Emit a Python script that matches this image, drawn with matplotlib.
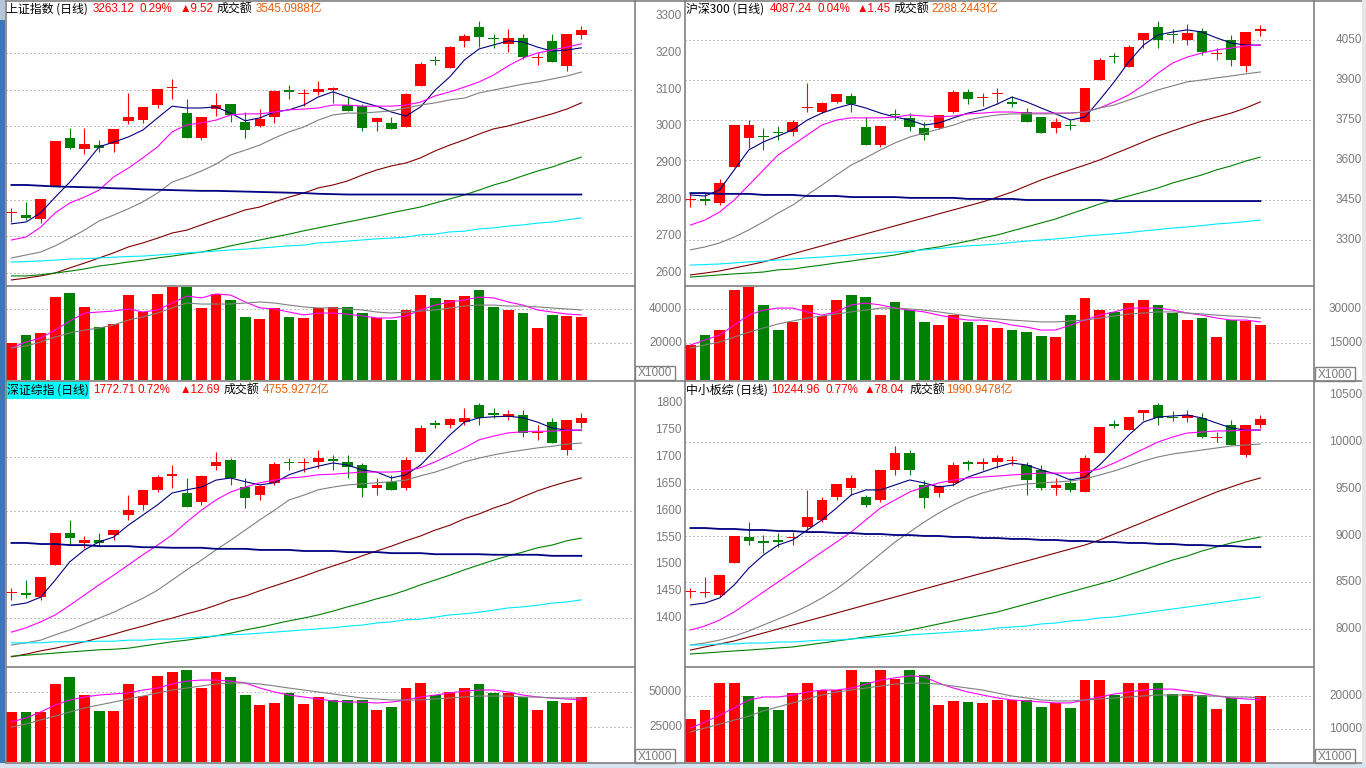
import matplotlib
matplotlib.use("Agg")
import matplotlib.pyplot as plt
from matplotlib.patches import Rectangle
from matplotlib.transforms import blended_transform_factory
import numpy as np

# ── data: 上证指数 ────────────────────────────────────────────────────────────
SH_OPEN = [2764,2758,2747,2837,2968,2938,2949,2952,3015,3017,3058,3104,3036,2968,3047,3061,3012,3001,3025,3099,3087,3094,3100,3058,3055,3012,3009,2998,3110,3178,3159,3233,3271,3238,3225,3241,3186,3233,3165,3249]
SH_HIGH = [2777,2794,2802,2960,2995,2995,2963,2993,3091,3053,3102,3129,3075,3025,3091,3061,3039,3047,3096,3113,3102,3124,3107,3080,3061,3023,3025,3091,3175,3192,3219,3252,3287,3252,3265,3252,3200,3252,3252,3274]
SH_LOW = [2739,2745,2736,2837,2938,2925,2930,2930,3006,3009,3050,3075,2968,2963,3028,3012,2968,2998,3009,3075,3056,3085,3064,3042,2987,2987,2993,2998,3110,3167,3159,3216,3216,3214,3203,3184,3167,3175,3151,3238]
SH_CLOSE = [2765,2750,2802,2960,2941,2952,2941,2993,3025,3053,3102,3106,2968,3025,3058,3031,2990,3020,3096,3094,3089,3102,3102,3042,2995,3023,2993,3088,3170,3177,3216,3246,3244,3237,3241,3189,3187,3175,3252,3263]
SH_MA5 = [2734,2739,2764,2807,2848,2895,2944,2957,2971,2990,3023,3055,3050,3050,3053,3036,3015,3023,3039,3045,3058,3080,3094,3080,3066,3055,3039,3028,3053,3099,3135,3181,3211,3222,3233,3230,3216,3205,3208,3214]
SH_MA10 = [2690,2698,2725,2764,2791,2807,2826,2862,2886,2914,2944,2985,3004,3009,3017,3031,3034,3034,3039,3045,3047,3050,3058,3058,3055,3055,3055,3058,3066,3083,3094,3107,3121,3140,3165,3186,3200,3208,3216,3225]
SH_MA20 = [2641,2649,2657,2674,2695,2717,2742,2758,2775,2794,2818,2848,2862,2878,2897,2922,2935,2949,2968,2985,2998,3017,3031,3036,3036,3039,3042,3050,3058,3064,3072,3077,3091,3099,3107,3115,3121,3129,3137,3148]
SH_MA60 = [2581,2586,2592,2600,2614,2627,2641,2655,2671,2682,2695,2709,2717,2731,2745,2758,2772,2780,2794,2807,2818,2832,2840,2851,2867,2881,2892,2900,2914,2933,2949,2963,2979,2993,3001,3012,3023,3034,3047,3064]
SH_MA120 = [2592,2592,2595,2600,2605,2611,2619,2624,2630,2635,2641,2646,2652,2657,2665,2674,2682,2690,2698,2706,2715,2723,2731,2739,2747,2755,2764,2772,2780,2791,2802,2813,2826,2840,2851,2865,2878,2889,2903,2916]
SH_MA250 = [2630,2631,2633,2635,2638,2639,2641,2643,2645,2646,2649,2652,2655,2657,2660,2663,2665,2668,2671,2674,2676,2682,2684,2687,2690,2693,2695,2698,2704,2706,2712,2714,2720,2723,2728,2731,2736,2739,2745,2750]
SH_MAX = [2840,2840,2838,2836,2835,2834,2833,2831,2830,2828,2827,2826,2825,2824,2824,2823,2822,2821,2820,2819,2818,2816,2815,2814,2814,2814,2814,2814,2814,2814,2814,2814,2814,2814,2814,2814,2814,2814,2814,2814]
SH_VOL = [20000,24700,25900,47000,49400,41200,29400,31200,48200,38200,48800,52900,52900,40600,48800,45300,35300,34100,40600,35300,34700,40600,41200,41200,37600,34700,33500,39400,48200,46500,45300,47600,51200,41200,39400,37600,28800,36500,35900,35300]
SH_VMA5 = [17100,20600,22900,27600,32900,37600,38200,38800,40000,38200,39400,43500,47600,46500,48800,48200,44100,40600,40000,38200,36500,37600,37600,37000,35900,34700,34700,35900,39400,42300,44100,45300,47000,46500,44100,42300,39400,38200,37000,36500]
SH_VMA10 = [17100,18200,20600,23500,25900,27600,28800,30600,33500,35300,37600,40600,43500,42900,42900,42900,43500,44100,43500,42300,41200,40600,40600,40000,39400,38200,37600,38200,38800,39400,40600,41700,42300,42300,41700,41700,41200,40600,40000,39400]

# ── data: 沪深300 ────────────────────────────────────────────────────────────
HS_OPEN = [3450,3455,3439,3574,3683,3690,3705,3705,3795,3780,3818,3840,3724,3656,3770,3758,3720,3720,3780,3855,3833,3848,3818,3780,3761,3720,3730,3743,3900,3990,3949,4050,4099,4072,4050,4084,3998,4050,3953,4085]
HS_HIGH = [3476,3476,3529,3731,3750,3720,3728,3750,3889,3818,3848,3851,3761,3728,3790,3776,3743,3769,3861,3866,3851,3870,3840,3795,3761,3758,3750,3870,3983,4000,4031,4076,4121,4090,4110,4095,4020,4069,4080,4106]
HS_LOW = [3424,3431,3431,3574,3645,3638,3675,3690,3780,3776,3815,3780,3656,3650,3750,3709,3675,3715,3776,3810,3803,3810,3800,3743,3700,3701,3713,3743,3900,3965,3949,4020,4020,4040,4030,3994,3975,3953,3930,4065]
HS_CLOSE = [3452,3446,3514,3731,3731,3685,3701,3743,3800,3814,3848,3810,3656,3728,3767,3724,3694,3769,3855,3829,3836,3850,3810,3743,3701,3743,3726,3870,3975,3985,4024,4076,4050,4069,4076,4005,4000,3975,4080,4087]
HS_MA5 = [3469,3465,3488,3563,3638,3668,3690,3713,3750,3776,3795,3810,3795,3776,3761,3750,3731,3739,3758,3776,3788,3810,3836,3818,3795,3773,3750,3761,3825,3893,3968,4031,4069,4080,4088,4080,4058,4039,4031,4031]
HS_MA10 = [3356,3375,3405,3450,3506,3563,3619,3656,3694,3731,3750,3758,3758,3758,3761,3769,3765,3761,3765,3773,3776,3780,3780,3776,3776,3776,3776,3780,3795,3818,3844,3881,3926,3964,3986,4001,4013,4020,4028,4031]
HS_MA20 = [3263,3274,3289,3311,3338,3368,3401,3431,3469,3506,3544,3581,3608,3638,3664,3686,3701,3716,3731,3750,3761,3769,3773,3773,3773,3773,3776,3780,3795,3806,3825,3844,3863,3878,3893,3900,3908,3915,3923,3930]
HS_MA60 = [3169,3176,3184,3195,3206,3218,3233,3248,3263,3278,3293,3308,3323,3338,3353,3368,3383,3398,3413,3428,3443,3461,3480,3503,3525,3544,3563,3581,3600,3623,3645,3668,3690,3709,3728,3746,3761,3776,3795,3818]
HS_MA120 = [3161,3165,3169,3173,3176,3180,3188,3191,3199,3206,3214,3221,3229,3236,3244,3255,3266,3274,3285,3296,3308,3319,3334,3349,3364,3379,3398,3416,3435,3450,3465,3480,3495,3514,3529,3544,3563,3578,3596,3611]
HS_MA250 = [3206,3208,3210,3214,3218,3221,3225,3229,3233,3236,3240,3244,3248,3251,3255,3259,3263,3268,3274,3278,3281,3285,3291,3296,3300,3304,3309,3315,3319,3323,3328,3334,3339,3345,3349,3354,3360,3364,3369,3375]
HS_MAX = [3476,3476,3473,3473,3473,3469,3469,3469,3465,3465,3465,3461,3461,3461,3461,3458,3458,3458,3458,3454,3454,3454,3454,3450,3450,3450,3450,3450,3450,3446,3446,3446,3446,3446,3446,3446,3446,3446,3446,3446]
HS_VOL = [14100,18500,20700,38400,39700,31800,20700,24300,31800,26900,34000,36200,35300,27300,33100,29500,24300,22900,27300,24300,22900,21600,20700,19800,18100,17600,27300,34800,29500,28700,32600,34000,31800,28200,25100,26000,17600,25100,24700,22900]
HS_VMA5 = [14100,16300,18500,22900,27300,29500,30400,30400,28700,27300,28700,31800,32600,31800,30400,29500,28700,27300,26000,25100,25100,24300,22900,22000,20700,20700,22900,25100,27300,28700,30400,30400,30400,29500,28200,27300,26000,25100,25100,24300]
HS_VMA10 = [12800,14100,15400,17600,19800,21600,23400,24700,26000,26900,27800,28700,29500,30400,30400,30000,29500,28700,27800,26900,26000,25600,25100,24700,24300,24300,24700,25100,26000,26900,27800,28200,28700,28700,28200,27800,27300,26900,26500,26000]

# ── data: 深证综指 ────────────────────────────────────────────────────────────
SZ_OPEN = [1447,1447,1439,1499,1558,1540,1545,1555,1592,1611,1639,1665,1633,1616,1683,1694,1644,1629,1652,1691,1689,1691,1694,1691,1685,1642,1653,1642,1709,1761,1760,1765,1797,1782,1774,1778,1745,1765,1713,1763]
SZ_HIGH = [1456,1471,1477,1558,1583,1553,1558,1564,1629,1639,1666,1685,1661,1666,1709,1698,1661,1648,1691,1698,1698,1713,1704,1704,1689,1661,1666,1700,1760,1769,1773,1791,1801,1791,1787,1787,1760,1773,1769,1782]
SZ_LOW = [1434,1437,1434,1499,1536,1531,1534,1545,1583,1601,1635,1642,1607,1611,1676,1648,1605,1620,1648,1676,1672,1680,1676,1661,1626,1629,1639,1639,1709,1754,1754,1760,1760,1773,1769,1737,1732,1726,1704,1754]
SZ_CLOSE = [1448,1443,1477,1558,1549,1545,1540,1564,1601,1639,1663,1668,1607,1665,1691,1661,1624,1646,1687,1689,1691,1698,1693,1681,1642,1648,1639,1694,1754,1760,1771,1772,1772,1778,1780,1745,1747,1726,1769,1773]
SZ_MA5 = [1424,1428,1439,1471,1505,1527,1542,1551,1573,1592,1611,1633,1639,1644,1657,1661,1654,1648,1652,1667,1676,1683,1689,1685,1676,1672,1661,1667,1685,1713,1741,1765,1773,1775,1776,1773,1765,1754,1750,1750]
SZ_MA10 = [1374,1382,1393,1406,1424,1443,1462,1480,1499,1518,1536,1555,1579,1601,1620,1635,1644,1652,1657,1661,1663,1667,1668,1670,1672,1672,1672,1674,1680,1691,1704,1717,1732,1739,1745,1747,1748,1748,1750,1750]
SZ_MA20 = [1350,1354,1359,1369,1378,1389,1400,1411,1424,1437,1452,1471,1490,1508,1527,1545,1564,1583,1601,1620,1629,1639,1644,1648,1650,1652,1654,1657,1665,1672,1681,1691,1698,1704,1709,1713,1717,1720,1724,1726]
SZ_MA60 = [1328,1333,1339,1344,1350,1356,1363,1370,1378,1385,1393,1400,1408,1415,1424,1434,1441,1451,1460,1469,1478,1488,1497,1506,1516,1525,1534,1544,1553,1564,1573,1585,1594,1605,1614,1626,1637,1646,1654,1661]
SZ_MA120 = [1329,1331,1333,1335,1337,1339,1341,1342,1344,1348,1352,1356,1359,1363,1367,1372,1378,1383,1389,1395,1400,1406,1413,1421,1428,1436,1443,1452,1462,1471,1480,1490,1499,1508,1516,1523,1531,1536,1544,1549]
SZ_MA250 = [1354,1354,1354,1356,1356,1356,1357,1357,1359,1359,1361,1361,1363,1365,1367,1369,1370,1372,1374,1376,1378,1380,1382,1385,1387,1391,1393,1397,1398,1402,1406,1408,1411,1415,1419,1421,1424,1428,1430,1434]
SZ_MAX = [1540,1540,1538,1538,1536,1536,1534,1534,1534,1532,1532,1531,1531,1531,1529,1529,1529,1527,1527,1527,1525,1525,1525,1523,1523,1523,1521,1521,1521,1519,1519,1519,1519,1518,1518,1518,1518,1516,1516,1516]
SZ_VOL = [35700,35700,35700,55700,60700,47800,36400,36400,55700,47100,61400,64300,65700,52800,64300,60700,47800,40700,42100,49300,41400,46400,44300,44300,44300,37100,39300,52800,56400,47800,50000,52800,55700,49300,49300,46400,37100,43600,42100,46400]
SZ_VMA5 = [28600,31400,35700,40700,44300,46400,47800,48600,49300,51400,52800,55700,57800,58500,58500,57800,56400,52800,50000,47800,46400,45000,43600,42800,42800,42100,42800,44300,46400,47800,49300,50700,51400,51400,50000,47800,46400,45700,45000,44300]
SZ_VMA10 = [25000,27100,30000,32800,35700,38600,40700,42800,45000,47100,49300,51400,52800,54300,55700,56400,56400,55700,54300,52800,51400,50000,48600,47100,45700,45000,44300,44300,44300,45000,45700,46400,47100,47100,47100,46400,46400,45700,45700,45700]

# ── data: 中小板综 ────────────────────────────────────────────────────────────
ZX_OPEN = [8396,8385,8364,8706,8984,8930,8952,8973,9091,9166,9412,9508,9412,9380,9701,9882,9540,9455,9562,9775,9765,9786,9797,9754,9701,9508,9562,9465,9882,10193,10128,10310,10396,10267,10257,10257,10043,10182,9861,10182]
ZX_HIGH = [8439,8556,8578,8995,9144,9005,9027,9037,9487,9412,9551,9647,9433,9701,9957,9914,9594,9540,9786,9807,9829,9861,9850,9786,9754,9615,9615,9861,10160,10235,10267,10342,10417,10332,10342,10310,10107,10235,10182,10289]
ZX_LOW = [8332,8342,8342,8706,8898,8813,8877,8898,9059,9144,9380,9433,9305,9358,9647,9647,9294,9412,9529,9701,9701,9722,9754,9433,9487,9433,9465,9465,9882,10150,10128,10235,10182,10225,10214,10043,10000,9968,9840,10150]
ZX_CLOSE = [8398,8396,8578,8995,8941,8925,8930,8984,9198,9380,9551,9615,9326,9701,9882,9701,9401,9529,9754,9770,9786,9829,9800,9594,9508,9540,9487,9829,10160,10171,10267,10342,10257,10257,10289,10053,10053,9968,10182,10245]
ZX_MA5 = [8257,8278,8332,8471,8652,8791,8898,8952,9059,9166,9294,9433,9487,9487,9540,9594,9562,9519,9540,9626,9679,9733,9775,9754,9701,9658,9594,9626,9754,9914,10075,10214,10267,10278,10289,10257,10203,10150,10128,10128]
ZX_MA10 = [7989,8032,8096,8182,8289,8396,8503,8610,8717,8824,8930,9037,9166,9294,9380,9465,9519,9562,9594,9615,9626,9636,9647,9658,9668,9668,9668,9679,9711,9775,9850,9925,10000,10053,10096,10107,10118,10118,10128,10128]
ZX_MA20 = [7829,7850,7882,7925,7979,8043,8107,8171,8246,8332,8428,8545,8674,8802,8930,9037,9144,9241,9326,9401,9455,9497,9529,9551,9562,9572,9583,9604,9647,9690,9743,9797,9840,9872,9893,9914,9936,9957,9968,9979]
ZX_MA60 = [7775,7808,7840,7872,7915,7957,8000,8043,8086,8128,8171,8214,8257,8300,8342,8385,8428,8471,8513,8556,8599,8642,8685,8727,8770,8813,8856,8898,8952,9016,9080,9144,9209,9273,9337,9401,9465,9519,9572,9615]
ZX_MA120 = [7733,7743,7754,7765,7775,7786,7797,7808,7829,7850,7872,7893,7915,7936,7957,7989,8021,8054,8086,8118,8150,8182,8225,8267,8310,8353,8396,8439,8481,8524,8578,8631,8685,8738,8781,8834,8877,8920,8952,8984]
ZX_MA250 = [7829,7829,7840,7840,7850,7850,7861,7861,7872,7882,7882,7893,7904,7915,7925,7936,7947,7957,7968,7979,7989,8011,8021,8032,8054,8064,8086,8096,8118,8128,8150,8171,8193,8214,8235,8257,8278,8300,8321,8342]
ZX_MAX = [9080,9080,9070,9070,9059,9059,9048,9048,9037,9037,9027,9027,9016,9016,9005,9005,8995,8995,8984,8984,8973,8973,8963,8963,8952,8952,8941,8941,8930,8930,8920,8920,8909,8909,8898,8898,8888,8888,8877,8877]
ZX_VOL = [13000,15800,23900,23900,20000,16700,15800,20900,23900,21800,21800,27900,24200,27900,25100,27900,26400,17300,18500,18200,17900,18800,18800,18800,16700,17900,16400,24800,24800,20300,23900,23900,23900,20600,20600,20300,16100,19400,17600,20000]
ZX_VMA5 = [10300,12100,14200,16400,18800,19700,19700,20300,21200,21800,21800,22400,23600,24800,25500,26100,25800,23900,22400,21200,20300,19400,18800,18500,18200,17900,17900,18800,19700,20600,21200,21800,22100,22100,21500,20900,20000,19400,19100,18800]
ZX_VMA10 = [9090,10300,11500,12700,13900,15500,16700,17900,19100,20300,21200,21800,22400,23000,23600,23900,23900,23600,23000,22400,21800,20900,20000,19400,18800,18500,18500,18800,19100,19400,19700,20000,20300,20300,20300,20000,20000,19700,19700,19400]

# ── style ─────────────────────────────────────────────────────────────────────
W, H = 1366, 768
RED = "#FF0000"
GREEN = "#008000"
FRAME = "#808080"
ORANGE = "#E8600C"
MA_COLORS = ["#000080", "#FF00FF", "#808080", "#800000", "#008000", "#00E8FF"]
CJK = ["Noto Sans CJK SC", "DejaVu Sans"]
NUM = ["Liberation Sans", "DejaVu Sans", "Noto Sans CJK SC"]

fig = plt.figure(figsize=(W / 100, H / 100), dpi=100)
fig.patch.set_facecolor("white")


def px_axes(x0, y0, x1, y1, z=1):
    ax = fig.add_axes([x0 / W, 1 - y1 / H, (x1 - x0) / W, (y1 - y0) / H], zorder=z)
    ax.set_facecolor("none")
    ax.axis("off")
    return ax


bg = px_axes(0, 0, W, H, z=0)
bg.set_xlim(0, W); bg.set_ylim(H, 0)
top = px_axes(0, 0, W, H, z=5)
top.set_xlim(0, W); top.set_ylim(H, 0)

# window chrome
bg.add_patch(Rectangle((0, 0), 5, 20, color="#B4C6D8", lw=0))
bg.add_patch(Rectangle((0, 20), 5, 748, color="#3E76B4", lw=0))
bg.add_patch(Rectangle((0, 763), W, 5, color="#D7E3EF", lw=0))
bg.add_patch(Rectangle((1362, 0), 4, 763, color="#E6E6E6", lw=0))
bg.add_patch(Rectangle((6, 381), 83, 18, color="#00FFFF", lw=0))

XL = (-0.37, 42.67)


def grid_and_labels(ax, lab_x, labels, grids):
    tr = blended_transform_factory(fig.transFigure, ax.transData)
    for v in labels:
        ax.text(lab_x / W, v, str(v), transform=tr, ha="right", va="center",
                fontsize=8.5, color="#7A7A7A", family=NUM)
    for v in grids:
        ax.axhline(v, color=FRAME, lw=0.72, ls=(0, (1, 3)), zorder=1)


def panel(x0, x1, y0, ysep, y1, lab_x, o, h, l, c, mas, ylim, plabels, pgrids,
          vol, vma5, vma10, vylim, vlabels):
    o, h, l, c = map(np.asarray, (o, h, l, c))
    x = np.arange(len(o))
    col = np.where(c >= o, RED, GREEN)

    ax = px_axes(x0, y0, x1, ysep, z=2)
    ax.set_xlim(*XL); ax.set_ylim(*ylim)
    unit = (ylim[1] - ylim[0]) / (ysep - y0)
    grid_and_labels(ax, lab_x, plabels, pgrids)
    ax.vlines(x, l, h, colors=col, lw=0.8, zorder=2)
    body = np.maximum(np.abs(c - o), 1.3 * unit)
    ax.bar(x, body, 0.72, bottom=np.minimum(o, c), color=col, lw=0, zorder=3)
    for ma, mc in zip(mas[:-1], MA_COLORS):
        ax.plot(x, ma, color=mc, lw=0.8, zorder=4)
    ax.plot(x, mas[-1], color="#000080", lw=1.3, zorder=4)

    av = px_axes(x0, ysep, x1, y1, z=2)
    av.set_xlim(*XL); av.set_ylim(*vylim)
    grid_and_labels(av, lab_x, vlabels, vlabels)
    vol = np.asarray(vol)
    av.bar(x, vol - vylim[0], 0.74, bottom=vylim[0], color=col, lw=0, zorder=3)
    av.plot(x, vma5, color="#FF00FF", lw=0.8, zorder=4)
    av.plot(x, vma10, color="#808080", lw=0.8, zorder=4)


panel(6, 635, 0, 286, 380, 682, SH_OPEN, SH_HIGH, SH_LOW, SH_CLOSE,
      [SH_MA5, SH_MA10, SH_MA20, SH_MA60, SH_MA120, SH_MA250, SH_MAX],
      (2564.5, 3344.5), list(range(3300, 2550, -100)), list(range(3200, 2550, -100)),
      SH_VOL, SH_VMA5, SH_VMA10, (-1764, 53508), [40000, 20000])
panel(685, 1314, 0, 286, 380, 1362, HS_OPEN, HS_HIGH, HS_LOW, HS_CLOSE,
      [HS_MA5, HS_MA10, HS_MA20, HS_MA60, HS_MA120, HS_MA250, HS_MAX],
      (3127.5, 4200), list(range(4050, 3250, -150)), list(range(4050, 3250, -150)),
      HS_VOL, HS_VMA5, HS_VMA10, (-1323, 40131), [30000, 15000])
panel(6, 635, 380, 667, 762, 682, SZ_OPEN, SZ_HIGH, SZ_LOW, SZ_CLOSE,
      [SZ_MA5, SZ_MA10, SZ_MA20, SZ_MA60, SZ_MA120, SZ_MA250, SZ_MAX],
      (1309, 1843.4), list(range(1800, 1350, -50)), [1700, 1600, 1500, 1400],
      SZ_VOL, SZ_VMA5, SZ_VMA10, (0, 67830), [50000, 25000])
panel(685, 1314, 380, 667, 762, 1362, ZX_OPEN, ZX_HIGH, ZX_LOW, ZX_CLOSE,
      [ZX_MA5, ZX_MA10, ZX_MA20, ZX_MA60, ZX_MA120, ZX_MA250, ZX_MAX],
      (7593.6, 10663.1), list(range(10500, 7950, -500)), list(range(10000, 7950, -500)),
      ZX_VOL, ZX_VMA5, ZX_VMA10, (0, 28785), [20000, 10000])

# ── frame lines ───────────────────────────────────────────────────────────────
kw = dict(color=FRAME, lw=1.2, solid_capstyle="butt")
for xv in (5.5, 635, 685, 1314):
    top.plot([xv, xv], [0, 762.5], **kw)
for yv in (380.5, 762.5):
    top.plot([5, 1362], [yv, yv], **kw)
top.plot([5, 1362], [0.5, 0.5], **kw)
for yv in (286, 667):
    top.plot([5.5, 635], [yv, yv], **kw)
    top.plot([685, 1314], [yv, yv], **kw)

# X1000 boxes
for bx, by in ((635, 366), (1315, 367), (635, 749), (1315, 749)):
    top.add_patch(Rectangle((bx, by), 40, 14, fill=False, ec=FRAME, lw=1.0))
    top.text(bx + 20, by + 7.5, "X1000", ha="center", va="center",
             fontsize=8.5, color="#7A7A7A", family=NUM)

# ── headers ───────────────────────────────────────────────────────────────────
HEADERS = [
    (9, [(6, "上证指数 (日线)", "black", CJK), (93, "3263.12", RED, NUM),
         (140, "0.29%", RED, NUM), (180, "▲9.52", RED, NUM),
         (217, "成交额", "black", CJK), (256, "3545.0988亿", ORANGE, NUM)]),
    (9, [(686, "沪深300 (日线)", "black", CJK), (770, "4087.24", RED, NUM),
         (818, "0.04%", RED, NUM), (857, "▲1.45", RED, NUM),
         (894, "成交额", "black", CJK), (931, "2288.2443亿", ORANGE, NUM)]),
    (390, [(7, "深证综指 (日线)", "black", CJK), (93, "1772.71", RED, NUM),
           (138, "0.72%", RED, NUM), (180, "▲12.69", RED, NUM),
           (224, "成交额", "black", CJK), (263, "4755.9272亿", ORANGE, NUM)]),
    (390, [(686, "中小板综 (日线)", "black", CJK), (771, "10244.96", RED, NUM),
           (826, "0.77%", RED, NUM), (864, "▲78.04", RED, NUM),
           (910, "成交额", "black", CJK), (946, "1990.9478亿", ORANGE, NUM)]),
]
for yc, pieces in HEADERS:
    for xp, s, colr, fam in pieces:
        top.text(xp, yc, s, ha="left", va="center",
                 fontsize=8.6 if fam is CJK else 8.4, color=colr, family=fam)

fig.savefig("out.png", dpi=100, facecolor="white")
